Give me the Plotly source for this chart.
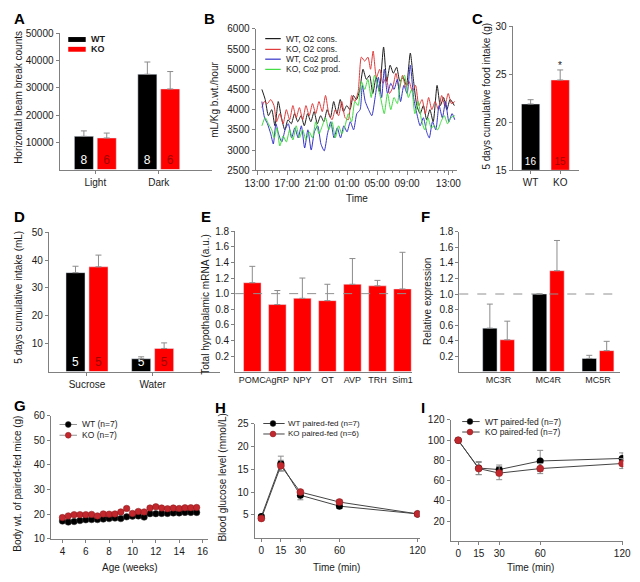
import plotly.graph_objects as go

W, H = 640, 582
FONT = "Liberation Sans, Arial, sans-serif"
AX = "#808080"
TXT = "#1a1a1a"
ERR = "#8c8c8c"
RED = "#ff0000"
NRED = "#a00000"
DKRED = "#c1272d"

# ---------------- data ----------------
# A
a_cats = ["Light", "Dark"]
a_wt = [12200, 35000]
a_wt_err = [2000, 4500]
a_wt_n = ["8", "8"]
a_ko = [11600, 29600]
a_ko_err = [1800, 6400]
a_ko_n = ["6", "6"]

# B (hours after 13:00, mL/Kg b.wt./hour)
b_t_wt_o2 = [0.65, 1.09, 1.52, 1.96, 2.39, 2.83, 3.26, 3.70, 4.13, 4.57, 5.00, 5.43, 5.87, 6.30, 6.74,
             7.17, 7.61, 8.04, 8.48, 8.91, 9.35, 9.78, 10.22, 10.65, 11.09, 11.52, 11.96, 12.39, 12.83,
             13.26, 13.70, 14.13, 14.57, 15.00, 15.43, 15.87, 16.30, 16.87, 17.30, 17.74, 18.17, 18.61,
             19.04, 19.48, 19.91, 20.43, 20.87, 21.30, 21.74, 22.17, 22.61, 23.04, 23.48, 24.00, 24.43,
             24.87, 25.30, 25.74, 26.30]
b_wt_o2 = [4500, 4250, 3850, 4000, 3600, 4200, 3800, 3500, 3750, 3650, 3900, 3700, 3850, 3600, 3900,
           3700, 3950, 3650, 3850, 3700, 4000, 3800, 4200, 3900, 4250, 3950, 4100, 4000, 4350, 4250,
           4500, 5000, 4750, 4850, 4400, 4800, 4450, 5550, 4700, 5100, 4900, 5050, 4700, 4800, 4600,
           5400, 4700, 4100, 3900, 4100, 3750, 4000, 3700, 4600, 4100, 4300, 4000, 4250, 4100]

b_t_ko_o2 = [0.65, 0.96, 1.39, 1.83, 2.26, 2.61, 3.04, 3.48, 3.91, 4.35, 4.78, 5.22, 5.65, 6.09, 6.52,
             6.96, 7.39, 7.83, 8.26, 8.70, 9.13, 9.57, 10.00, 10.43, 10.87, 11.30, 11.74, 12.17, 12.61,
             13.04, 13.48, 13.91, 14.35, 14.78, 15.13, 15.48, 15.91, 16.35, 16.78, 17.22, 17.65, 18.09,
             18.52, 18.96, 19.39, 19.83, 20.26, 20.70, 21.13, 21.57, 22.00, 22.43, 22.87, 23.30, 23.74,
             24.17, 24.61, 25.04, 25.48, 25.91, 26.35]
b_ko_o2 = [4050, 4200, 4150, 4250, 4100, 3700, 3900, 3650, 4000, 3750, 4100, 3800, 4050, 3750, 4100,
           3850, 4150, 3900, 4200, 3950, 4350, 3900, 3750, 4000, 3850, 4200, 3800, 3750, 4350, 4200,
           4450, 5300, 5200, 5300, 5000, 5450, 4800, 5000, 4650, 4800, 4400, 4550, 4900, 4500, 4850,
           4550, 4700, 4450, 4600, 4100, 4250, 3900, 4300, 4000, 4200, 4000, 4350, 4100, 4400, 4150,
           4200]

b_t_wt_co2 = [0.65, 1.00, 1.39, 1.83, 2.17, 2.52, 2.87, 3.30, 3.74, 4.17, 4.61, 5.04, 5.48, 5.91, 6.35,
              6.78, 7.22, 7.65, 8.09, 8.52, 8.96, 9.39, 9.83, 10.26, 10.70, 11.13, 11.57, 12.00, 12.43,
              12.87, 13.30, 13.74, 14.04, 14.43, 14.87, 15.30, 15.74, 16.17, 16.61, 16.96, 17.39, 17.83,
              18.26, 18.70, 19.13, 19.57, 20.00, 20.43, 20.87, 21.30, 21.74, 22.17, 22.61, 22.96, 23.39,
              23.83, 24.26, 24.70, 25.13, 25.57, 26.00, 26.35]
b_wt_co2 = [4200, 3800, 3650, 3400, 3150, 3650, 3400, 3200, 3500, 3650, 3300, 3550, 3300, 3600, 3050,
            3500, 3000, 3450, 3600, 3150, 2980, 3400, 3700, 3300, 3550, 3300, 3600, 3450, 3700, 3500,
            3900, 4000, 4600, 4200, 4000, 3850, 4300, 4800, 4300, 5000, 4400, 4650, 4500, 4750, 4200,
            4600, 4400, 5100, 4300, 3900, 3600, 3800, 3450, 3300, 3700, 3500, 4100, 3800, 4200, 3700,
            3900, 3750]

b_t_ko_co2 = [0.65, 1.09, 1.52, 1.96, 2.30, 2.65, 3.04, 3.48, 3.91, 4.35, 4.78, 5.22, 5.65, 6.09, 6.52,
              6.96, 7.39, 7.83, 8.26, 8.70, 9.13, 9.57, 10.00, 10.43, 10.87, 11.30, 11.74, 12.17, 12.61,
              13.04, 13.48, 13.91, 14.35, 14.78, 15.22, 15.65, 16.09, 16.52, 16.96, 17.39, 17.83, 18.26,
              18.70, 19.13, 19.65, 20.17, 20.61, 21.04, 21.48, 21.91, 22.35, 22.78, 23.22, 23.65, 24.09,
              24.52, 24.96, 25.39, 25.83, 26.35]
b_ko_co2 = [3600, 3800, 3650, 3500, 3300, 3550, 3100, 3350, 3200, 3500, 3250, 3600, 3300, 3500, 3250,
            3450, 3300, 3700, 3400, 3600, 3800, 3500, 3700, 3300, 3600, 3400, 3600, 3900, 3700, 4200,
            4100, 4700, 4500, 4750, 4300, 4850, 4600, 4250, 3900, 4400, 4000, 4300, 4150, 4700, 4850,
            4300, 4500, 3900, 4200, 3750, 3500, 3800, 3550, 3600, 3500, 3700, 3850, 3650, 3800, 3850]

b_tickvals = [0, 4, 8, 12, 16, 20, 25.5]
b_ticktext = ["13:00", "17:00", "21:00", "01:00", "05:00", "09:00", "13:00"]

# C
c_cats = ["WT", "KO"]
c_vals = [21.9, 24.4]
c_err = [0.45, 1.05]
c_n = ["16", "15"]
c_base = 15

# D
d_cats = ["Sucrose", "Water"]
d_wt = [35.5, 4.6]
d_wt_err = [2.3, 0.7]
d_ko = [37.6, 8.3]
d_ko_err = [4.2, 2.0]
d_wt_n = ["5", "5"]
d_ko_n = ["5", "5"]

# E
e_genes = ["POMC", "AgRP", "NPY", "OT", "AVP", "TRH", "Sim1"]
e_vals = [1.14, 0.86, 0.94, 0.91, 1.12, 1.10, 1.06]
e_err = [0.21, 0.18, 0.26, 0.21, 0.33, 0.07, 0.47]

# F
f_cats = ["MC3R", "MC4R", "MC5R"]
f_wt = [0.56, 1.0, 0.17]
f_wt_err = [0.31, None, 0.04]
f_ko = [0.41, 1.30, 0.27]
f_ko_err = [0.24, 0.39, 0.12]

# G
g_weeks = [4, 4.5, 5, 5.5, 6, 6.5, 7, 7.5, 8, 8.5, 9, 9.5, 10, 10.5, 11, 11.5, 12, 12.5, 13, 13.5,
           14, 14.5, 15, 15.5]
g_wt = [17.2, 16.8, 17.0, 17.4, 17.7, 17.8, 17.8, 18.0, 18.2, 18.4, 18.2, 18.9, 19.2, 19.3, 18.8,
        20.2, 20.2, 20.3, 20.3, 20.5, 20.5, 20.7, 20.7, 20.7]
g_ko = [18.6, 19.3, 19.8, 19.8, 19.8, 19.9, 19.3, 20.1, 20.0, 20.1, 20.9, 22.3, 20.3, 21.1, 20.9,
        22.5, 23.0, 22.5, 22.2, 22.5, 22.3, 22.6, 22.6, 22.7]

# H
h_t = [0, 15, 30, 60, 120]
h_wt = [4.6, 16.3, 9.3, 6.9, 5.2]
h_wt_err = [0.4, 1.6, 1.0, 0.5, 0.3]
h_ko = [4.2, 15.8, 10.0, 7.8, 5.2]
h_ko_err = [0.4, 1.2, 0.5, 0.5, 0.3]

# I
i_t = [0, 15, 30, 60, 120]
i_wt = [100, 72.5, 71, 79.5, 82]
i_wt_err = [0, 6.5, 4.5, 10.5, 5.5]
i_ko = [100, 72, 67.5, 72, 77]
i_ko_err = [0, 6, 6.5, 5, 5]

# ---------------- figure ----------------
fig = go.Figure()


def X(px):
    return px / W


def Y(py):
    return 1 - py / H


def add_axes(i, xdom, ydom, xkw, ykw):
    s = "" if i == 1 else str(i)
    base = dict(showline=True, linecolor=AX, linewidth=1, ticks="outside", ticklen=3,
                tickcolor=AX, tickwidth=1, showgrid=False, zeroline=False,
                tickfont=dict(family=FONT, size=10, color=TXT), fixedrange=True)
    xa = dict(base, domain=[X(xdom[0]), X(xdom[1])], anchor="y" + s)
    xa.update(xkw)
    ya = dict(base, domain=[Y(ydom[1]), Y(ydom[0])], anchor="x" + s)
    ya.update(ykw)
    fig.update_layout({"xaxis" + s: xa, "yaxis" + s: ya})
    return "x" + s, "y" + s


def err(arr, color=ERR, w=3):
    return dict(type="data", array=arr, arrayminus=[0] * len(arr), symmetric=False,
                color=color, thickness=1, width=w)


def serr(arr, color=ERR, w=3):
    return dict(type="data", array=arr, symmetric=True, color=color, thickness=1, width=w)


NTXT = dict(textposition="inside", insidetextanchor="start", textangle=0, constraintext="none")

# ---- A ----
xa, ya = add_axes(1, (50, 207), (28, 167),
                  dict(type="category", range=[-0.564, 1.836]),
                  dict(range=[0, 50000], tickvals=[10000, 20000, 30000, 40000, 50000],
                       tickformat="d"))
fig.add_trace(go.Bar(x=a_cats, y=a_wt, offset=-0.33, width=0.30, marker=dict(color="black"),
                     error_y=err(a_wt_err), text=a_wt_n, **NTXT,
                     textfont=dict(color="white", size=12, family=FONT), xaxis=xa, yaxis=ya))
fig.add_trace(go.Bar(x=a_cats, y=a_ko, offset=0.03, width=0.30, marker=dict(color=RED),
                     error_y=err(a_ko_err), text=a_ko_n, **NTXT,
                     textfont=dict(color=NRED, size=12, family=FONT), xaxis=xa, yaxis=ya))

# ---- B ----
xa, ya = add_axes(2, (252, 460), (23.3, 167.7),
                  dict(range=[-0.2, 26.7], tickmode="array", tickvals=b_tickvals, ticktext=b_ticktext,
                       ticklen=4,
                       minor=dict(tickmode="linear", tick0=0, dtick=1, ticks="outside", ticklen=2,
                                  tickcolor=AX)),
                  dict(range=[2500, 6000], dtick=500, tick0=2500, tickformat="d"))
for t, v, col in [(b_t_wt_o2, b_wt_o2, "#1e1e1e"), (b_t_ko_o2, b_ko_o2, "#e03c3c"),
                  (b_t_wt_co2, b_wt_co2, "#3434c8"), (b_t_ko_co2, b_ko_co2, "#3fdc3f")]:
    fig.add_trace(go.Scatter(x=t, y=v, mode="lines",
                             line=dict(color=col, width=1, shape="spline", smoothing=0.6),
                             xaxis=xa, yaxis=ya))

# ---- C ----
xa, ya = add_axes(3, (517, 585), (20.7, 167.7),
                  dict(type="category", range=[-0.607, 1.623]),
                  dict(range=[15, 30], tickvals=[15, 20, 25, 30]))
fig.add_trace(go.Bar(x=c_cats, y=[v - c_base for v in c_vals], base=c_base, width=0.62,
                     marker=dict(color=["black", RED]), error_y=err(c_err),
                     text=c_n, **NTXT,
                     textfont=dict(color=["white", NRED], size=10, family=FONT),
                     xaxis=xa, yaxis=ya))

# ---- D ----
xa, ya = add_axes(4, (39, 215), (231, 373.3),
                  dict(type="category", range=[-0.581, 2.02]),
                  dict(range=[0, 50], tickvals=[10, 20, 30, 40, 50]))
fig.add_trace(go.Bar(x=d_cats, y=d_wt, offset=-0.32, width=0.29, marker=dict(color="black"),
                     error_y=err(d_wt_err), text=d_wt_n, **NTXT,
                     textfont=dict(color="white", size=12, family=FONT), xaxis=xa, yaxis=ya))
fig.add_trace(go.Bar(x=d_cats, y=d_ko, offset=0.03, width=0.29, marker=dict(color=RED),
                     error_y=err(d_ko_err), text=d_ko_n, **NTXT,
                     textfont=dict(color=NRED, size=12, family=FONT), xaxis=xa, yaxis=ya))

# ---- E ----
xa, ya = add_axes(5, (231, 413), (230, 373.3),
                  dict(type="category", range=[-0.686, 6.37], ticks="", tickangle=0,
                       tickfont=dict(family=FONT, size=9, color=TXT)),
                  dict(range=[0, 1.8], tickvals=[0.2, 0.4, 0.6, 0.8, 1.0, 1.2, 1.4, 1.6, 1.8],
                       tickformat=".1f"))
fig.add_trace(go.Bar(x=e_genes, y=e_vals, width=0.7, marker=dict(color=RED),
                     error_y=err(e_err), xaxis=xa, yaxis=ya))
fig.add_shape(type="line", xref="x5 domain", yref="y5", x0=0, x1=1, y0=1, y1=1,
              line=dict(color="#909090", width=1, dash="dash"))

# ---- F ----
xa, ya = add_axes(6, (462, 628), (230.7, 373.3),
                  dict(type="category", range=[-0.79, 2.45], ticks="", tickangle=0,
                       tickfont=dict(family=FONT, size=9, color=TXT)),
                  dict(range=[0, 1.8], tickvals=[0.2, 0.4, 0.6, 0.8, 1.0, 1.2, 1.4, 1.6, 1.8],
                       tickformat=".1f"))
fig.add_trace(go.Bar(x=f_cats, y=f_wt, offset=-0.32, width=0.29, marker=dict(color="black"),
                     error_y=err(f_wt_err), xaxis=xa, yaxis=ya))
fig.add_trace(go.Bar(x=f_cats, y=f_ko, offset=0.03, width=0.29, marker=dict(color=RED),
                     error_y=err(f_ko_err), xaxis=xa, yaxis=ya))
fig.add_shape(type="line", xref="x6 domain", yref="y6", x0=0, x1=1, y0=1, y1=1,
              line=dict(color="#909090", width=1, dash="dash"))

# ---- G ----
xa, ya = add_axes(7, (41, 203), (418.3, 544),
                  dict(range=[3.0, 16.47], tickvals=[4, 6, 8, 10, 12, 14, 16]),
                  dict(range=[10, 60], tickvals=[10, 20, 30, 40, 50, 60]))
fig.add_trace(go.Scatter(x=g_weeks, y=g_wt, mode="lines+markers",
                         line=dict(color="#777", width=0.8),
                         marker=dict(color="black", size=6.5, line=dict(color="#333", width=0.5)),
                         xaxis=xa, yaxis=ya))
fig.add_trace(go.Scatter(x=g_weeks, y=g_ko, mode="lines+markers",
                         line=dict(color="#777", width=0.8),
                         marker=dict(color=DKRED, size=6.5, line=dict(color="#8b1a1a", width=0.5)),
                         xaxis=xa, yaxis=ya))

# ---- H ----
xa, ya = add_axes(8, (251, 421), (426.7, 542.7),
                  dict(range=[-5.2, 121.5], tickvals=[0, 15, 30, 60, 120]),
                  dict(range=[0, 25], tickvals=[5, 10, 15, 20, 25]))
fig.add_trace(go.Scatter(x=h_t, y=h_wt, mode="lines+markers", line=dict(color="#444", width=1),
                         marker=dict(color="black", size=7), error_y=serr(h_wt_err),
                         xaxis=xa, yaxis=ya))
fig.add_trace(go.Scatter(x=h_t, y=h_ko, mode="lines+markers", line=dict(color="#444", width=1),
                         marker=dict(color=DKRED, size=7, line=dict(color="#8b1a1a", width=0.5)),
                         error_y=serr(h_ko_err), xaxis=xa, yaxis=ya))

# ---- I ----
xa, ya = add_axes(9, (453, 631), (422.7, 546.7),
                  dict(range=[-5.6, 120.8], tickvals=[0, 15, 30, 60, 120]),
                  dict(range=[0, 120], tickvals=[20, 40, 60, 80, 100, 120]))
fig.add_trace(go.Scatter(x=i_t, y=i_wt, mode="lines+markers", line=dict(color="#444", width=1),
                         marker=dict(color="black", size=7), error_y=serr(i_wt_err),
                         xaxis=xa, yaxis=ya))
fig.add_trace(go.Scatter(x=i_t, y=i_ko, mode="lines+markers", line=dict(color="#444", width=1),
                         marker=dict(color=DKRED, size=7, line=dict(color="#8b1a1a", width=0.5)),
                         error_y=serr(i_ko_err), xaxis=xa, yaxis=ya))

# ---------------- annotations / legends ----------------
ann = []
shapes = []


def text(px, py, s, size=10, xanchor="center", yanchor="middle", angle=0, color=TXT):
    ann.append(dict(x=X(px), y=Y(py), xref="paper", yref="paper", text=s, showarrow=False,
                    xanchor=xanchor, yanchor=yanchor, textangle=angle,
                    font=dict(family=FONT, size=size, color=color), borderpad=0))


def vtitle(px, py, s):
    text(px, py, s, angle=-90)


def lg_line(x0, x1, py, color, width=1):
    shapes.append(dict(type="line", xref="paper", yref="paper", x0=X(x0), x1=X(x1), y0=Y(py),
                       y1=Y(py), line=dict(color=color, width=width)))


def lg_dot(px, py, r, color, lc):
    shapes.append(dict(type="circle", xref="paper", yref="paper", x0=X(px - r), x1=X(px + r),
                       y0=Y(py + r), y1=Y(py - r), fillcolor=color, line=dict(color=lc, width=0.5)))


def lg_rect(x0, x1, y0, y1, color):
    shapes.append(dict(type="rect", xref="paper", yref="paper", x0=X(x0), x1=X(x1), y0=Y(y1),
                       y1=Y(y0), fillcolor=color, line=dict(width=0)))


# panel letters
for lab, px, py in [("A", 2, 3), ("B", 198, 3), ("C", 474, 3), ("D", 2, 205), ("E", 195, 205),
                    ("F", 421, 205), ("G", 2, 398), ("H", 209, 400), ("I", 422, 400)]:
    text(px, py, "<b>%s</b>" % lab, size=15, xanchor="left", yanchor="top", color="black")

# axis titles
vtitle(7, 93, "Horizontal beam break counts")
vtitle(209, 96, "mL/Kg b.wt./hour")
text(357, 197, "Time")
vtitle(490, 92, "5 days cumulative food intake (g)")
vtitle(8, 297, "5 days cumulative intake (mL)")
vtitle(201, 305, "Total hypothalamic mRNA (a.u.)")
vtitle(430, 302, "Relative expression")
vtitle(7, 488, "Body wt. of paired-fed mice (g)")
text(123, 573, "Age (weeks)")
vtitle(218, 482, "Blood glucose level (mmol/L)")
text(335, 573, "Time (min)")
text(535, 573, "Time (min)")

# asterisk C
ann.append(dict(x="KO", y=25.9, xref="x3", yref="y3", text="*", showarrow=False,
                font=dict(family=FONT, size=10, color=TXT)))

# legend A
lg_rect(59, 77, 31.7, 36.7, "black")
lg_rect(59, 77, 41.7, 46.7, RED)
text(81, 34.2, "<b>WT</b>", size=9, xanchor="left")
text(81, 44.2, "<b>KO</b>", size=9, xanchor="left")

# legend B
for py, col, lab in [(33.3, "#1e1e1e", "WT, O2 cons."), (44.3, "#e03c3c", "KO, O2 cons."),
                     (54.3, "#3434c8", "WT, Co2 prod."), (64.7, "#3fdc3f", "KO, Co2 prod.")]:
    lg_line(262, 278, py, col, 1.2)
    text(282, py, lab, size=8.5, xanchor="left")

# legend G
for py, col, lc, lab in [(427.3, "black", "#333", "WT (n=7)"), (438.3, DKRED, "#8b1a1a", "KO (n=7)")]:
    lg_line(50, 68, py, "#777", 0.8)
    lg_dot(59, py, 3, col, lc)
    text(72, py, lab, size=8.5, xanchor="left")

# legend H
for py, col, lc, lab in [(426.3, "black", "#333", "WT paired-fed (n=7)"),
                         (437.0, DKRED, "#8b1a1a", "KO paired-fed (n=6)")]:
    lg_line(260, 282, py, "#444", 1)
    lg_dot(270, py, 3, col, lc)
    text(284, py, lab, size=8, xanchor="left")

# legend I
for py, col, lc, lab in [(424.3, "black", "#333", "WT paired-fed (n=7)"),
                         (435.0, DKRED, "#8b1a1a", "KO paired-fed (n=7)")]:
    lg_line(465, 483, py, "#444", 1)
    lg_dot(473, py, 3, col, lc)
    text(487, py, lab, size=8.5, xanchor="left")

fig.update_layout(width=W, height=H, margin=dict(l=0, r=0, t=0, b=0),
                  plot_bgcolor="white", paper_bgcolor="white", showlegend=False,
                  barmode="overlay", font=dict(family=FONT, size=10, color=TXT),
                  annotations=ann, hovermode=False)
for s in shapes:
    fig.add_shape(s)

fig.write_html("out.html", config={"displayModeBar": False, "staticPlot": True},
               post_script="document.body.style.margin='0px';")
